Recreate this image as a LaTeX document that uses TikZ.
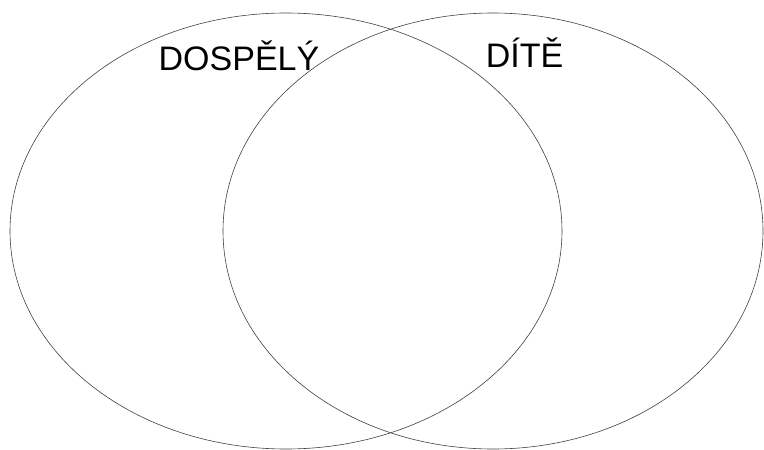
\documentclass[tikz,border=0pt]{standalone}
\usepackage{fontspec}
\setmainfont{Liberation Sans}
\usepackage{tikz}
\usetikzlibrary{positioning}

\begin{document}
\begin{tikzpicture}[x=1pt, y=-1pt]
  % Page frame
  \useasboundingbox (0,0) rectangle (764,450);

  \def\ry{218}

  % Two overlapping sets
  \draw[line width=0.6pt, black!75]
    (286,231) ellipse [x radius=276, y radius=\ry];
  \draw[line width=0.6pt, black!75]
    (493,231) ellipse [x radius=270, y radius=\ry];

  % Set labels
  \node[font=\fontsize{34}{40}\selectfont, anchor=base, inner sep=0pt]
    (adult) at (239,70) {DOSPĚLÝ};
  \node[font=\fontsize{34}{40}\selectfont, anchor=base, inner sep=0pt]
    (child) at (524.5,67) {DÍTĚ};
\end{tikzpicture}
\end{document}
